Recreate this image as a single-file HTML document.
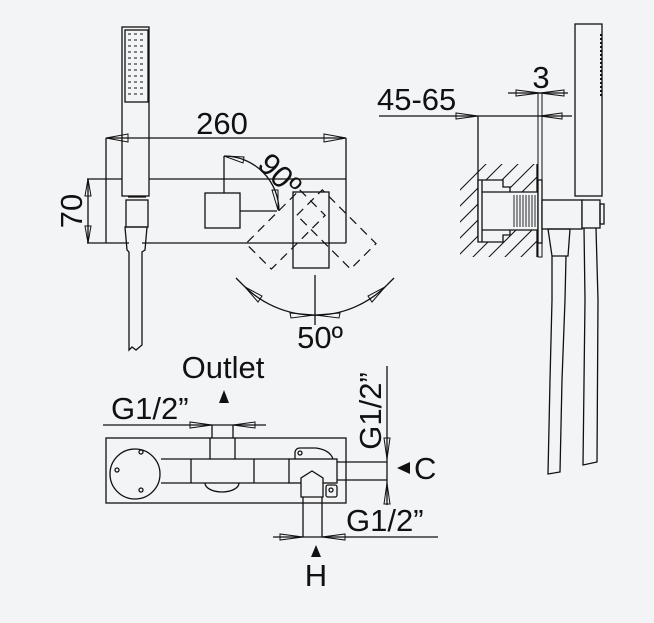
<!DOCTYPE html>
<html><head><meta charset="utf-8"><style>
html,body{margin:0;padding:0;background:#f3f4f6;}
svg{display:block}
text{font-family:"Liberation Sans",sans-serif;fill:#111;}
</style></head><body>
<svg width="654" height="623" viewBox="0 0 654 623" xmlns="http://www.w3.org/2000/svg">
<defs>
<clipPath id="wall"><rect x="460" y="164" width="77" height="93"/></clipPath>
</defs>
<g fill="none" stroke="#111" stroke-width="1.3">
<!-- hand shower -->
<rect x="122" y="27" width="27" height="169" fill="#f3f4f6"/>
<rect x="125" y="30" width="23" height="72"/>
<g stroke-width="1">
<path d="M128 34h18M128 40h18M128 46h18M128 52h18M128 58h18M128 64h18M128 70h18M128 76h18M128 82h18M128 88h18M128 94h18" stroke-dasharray="3 3"/>
</g>
<rect x="126" y="200" width="22" height="27"/>
<line x1="128" y1="197" x2="146" y2="197"/>
<path d="M125 227 L147 227 L145 250 L142 252 L142 345 L136 350 L132 347 L129 350 L129 252 L127 250 Z"/>
<!-- 260 dimension -->
<line x1="106" y1="138" x2="346" y2="138"/>
<line x1="106" y1="138" x2="106" y2="243"/>
<line x1="346" y1="138" x2="346" y2="243"/>
<path d="M106 138 L128 134 L128 142 Z M346 138 L324 134 L324 142 Z" stroke-width="1"/>
<line x1="87" y1="179" x2="122" y2="179"/>
<line x1="149" y1="179" x2="346" y2="179"/>
<line x1="87" y1="243" x2="129" y2="243"/>
<line x1="142" y1="243" x2="346" y2="243"/>
<line x1="88" y1="179" x2="88" y2="243"/>
<path d="M88 179 L85 196 L91 196 Z M88 243 L85 226 L91 226 Z" stroke-width="1"/>
<!-- knob -->
<rect x="205" y="193" width="35" height="35"/>
<line x1="224" y1="156" x2="224" y2="193"/>
<line x1="240" y1="211" x2="277" y2="211"/>
<path d="M224 156 A55 55 0 0 1 279 211"/>
<path d="M224 156 L244 157 L243 163 Z M278 210 L272 190 L278 190 Z" stroke-width="1"/>
<!-- lever -->
<g stroke-dasharray="9 6" stroke-width="1.2">
<rect x="293" y="202" width="36" height="76" transform="rotate(45 311 204)"/>
<rect x="293" y="202" width="36" height="76" transform="rotate(-45 311 204)"/>
</g>
<rect x="293" y="192" width="36" height="76"/>
<line x1="315" y1="275" x2="315" y2="325"/>
<path d="M243 285 A101 101 0 0 0 387 285"/>
<line x1="243" y1="285" x2="236" y2="278"/>
<line x1="387" y1="285" x2="394" y2="278"/>
<path d="M245 287 L262 296 L258 302 Z M385 287 L368 296 L372 302 Z M315 315 L290 313 L291 318 Z M315 315 L340 313 L339 318 Z" stroke-width="1"/>

<!-- RIGHT SIDE VIEW -->
<rect x="575" y="24" width="27" height="172"/>
<line x1="601" y1="34" x2="601" y2="96" stroke-dasharray="2 2" stroke-width="2"/>
<line x1="379" y1="116" x2="572" y2="116"/>
<path d="M478 116 L456 113 L456 119 Z M540 116 L562 113 L562 119 Z" stroke-width="1"/>
<line x1="478" y1="116" x2="478" y2="237"/>
<line x1="508" y1="93" x2="568" y2="93"/>
<path d="M540 93 L516 90 L516 96 Z M540 93 L564 90 L564 96 Z" stroke-width="1"/>
<rect x="538" y="93" width="4" height="164" stroke-width="1"/>
<g clip-path="url(#wall)" stroke-width="1">
<path d="M450 200l50-50M450 216l70-70M450 232l90-90M450 248l100-100M450 264l100-100M450 280l100-100M466 280l100-100M482 280l100-100M498 280l100-100M514 280l100-100"/>
</g>
<line x1="537" y1="164" x2="537" y2="257"/>
<path d="M478 180 H503 V187 H510 V192 H538 V230 H510 V235 H503 V242 H478 Z" fill="#f3f4f6"/>
<line x1="482" y1="180" x2="482" y2="242"/>
<path d="M482 192 H510 M482 230 H510"/>
<path d="M514 195v32M517 195v32M520 195v32M523 195v32M526 195v32M529 195v32M532 195v32M535 195v32" stroke-width="0.9"/>
<rect x="538" y="180" width="4" height="63" fill="#f3f4f6"/>
<rect x="542" y="200" width="40" height="29" fill="#f3f4f6"/>
<rect x="582" y="200" width="18" height="28" fill="#f3f4f6"/>
<rect x="600" y="204" width="4" height="20"/>
<path d="M548 229 L570 229 L568 256 L552 256 Z"/>
<path d="M552 256 L552 300 L550 380 L548 474 L560 472 L562 380 L565 300 L566 256"/>
<path d="M584 228 L585 300 L583 465 L597 462 L598 300 L596 228"/>

<!-- BOTTOM VIEW -->
<line x1="103" y1="425" x2="266" y2="425"/>
<path d="M212 425 L190 422 L190 428 Z M233 425 L255 422 L255 428 Z" stroke-width="1"/>
<rect x="106" y="438" width="240" height="65"/>
<circle cx="135" cy="474" r="25"/>
<circle cx="141" cy="452" r="2"/><circle cx="117" cy="470" r="2"/><circle cx="141" cy="490" r="2"/>
<path d="M222 483 m-17 0 a17 9 0 0 0 34 0"/>
<path d="M161 459 H210 V438 M235 438 V459 H289 M161 483 H289"/>
<line x1="212" y1="425" x2="212" y2="438"/><line x1="233" y1="425" x2="233" y2="438"/>
<line x1="191" y1="459" x2="191" y2="483"/>
<line x1="254" y1="459" x2="254" y2="483"/>
<line x1="210" y1="459" x2="235" y2="459"/>
<path d="M295 459 V452 Q296 448 300 448 H316 Q330 450 333 459"/>
<circle cx="300" cy="453" r="2"/>
<rect x="289" y="459" width="48" height="24" fill="#f3f4f6"/>
<path d="M337 462 H387 M337 480 H387"/>
<path d="M301 497 V478 L312 471 L323 478 V497 Z" fill="#f3f4f6"/>
<rect x="326" y="485" width="11" height="12" rx="2"/>
<circle cx="331" cy="490" r="2"/>
<path d="M303 497 V537 M322 497 V537"/>
<line x1="273" y1="537" x2="438" y2="537"/>
<path d="M303 537 L280 534 L280 540 Z M322 537 L345 534 L345 540 Z" stroke-width="1"/>
<line x1="387" y1="366" x2="387" y2="505"/>
<path d="M387 459 L384 438 L390 438 Z M387 483 L384 504 L390 504 Z" stroke-width="1"/>
</g>
<g fill="#111">
<path d="M224 390 L219 403 L229 403 Z"/>
<path d="M316 545 L311 557 L321 557 Z"/>
<path d="M397 468 L410 462 L410 474 Z"/>
</g>
<g font-size="31">
<text x="222" y="134" text-anchor="middle">260</text>
<text x="320" y="348" text-anchor="middle">50º</text>
<text transform="translate(82 211) rotate(-90)" text-anchor="middle">70</text>
<text transform="translate(256 166) rotate(45)">90º</text>
<text x="377" y="110">45-65</text>
<text x="541" y="88" text-anchor="middle">3</text>
<text x="223" y="378" text-anchor="middle">Outlet</text>
<text x="111" y="419">G1/2”</text>
<text x="346" y="531">G1/2”</text>
<text transform="translate(381 411) rotate(-90)" text-anchor="middle">G1/2”</text>
<text x="414" y="479">C</text>
<text x="316" y="586" text-anchor="middle">H</text>
</g>
</svg>
</body></html>
